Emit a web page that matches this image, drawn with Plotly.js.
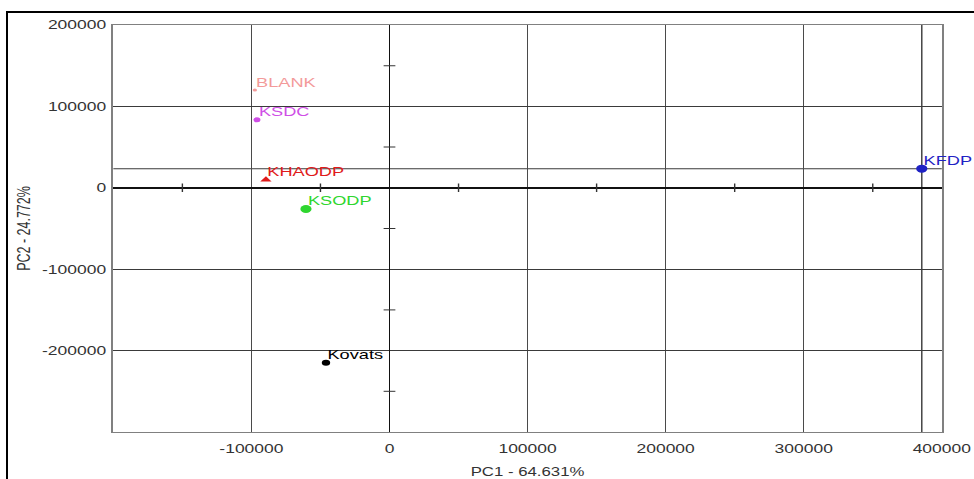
<!DOCTYPE html>
<html>
<head>
<meta charset="utf-8">
<script src="https://cdn.plot.ly/plotly-3.0.1.min.js"></script>
<style>
  html, body { margin: 0; padding: 0; background: #fff; }
  #wrap { position: relative; width: 974px; height: 479px; overflow: hidden; }
  /* the chart is laid out narrow and widened, giving the wide lettering */
  #chart { position: absolute; left: 0; top: 0; width: 696px; height: 479px;
           transform-origin: 0 0; transform: scaleX(1.3994); }
  #frame { position: absolute; left: 6px; top: 11px; width: 980px; height: 480px;
           border: 2px solid #000; pointer-events: none; }
</style>
</head>
<body>
<div id="wrap">
  <div id="chart"></div>
  <div id="frame"></div>
</div>
<script>
// PCA score plot: sample names and their PC1 / PC2 scores
const samples = ['BLANK', 'KSDC', 'KHAODP', 'KSODP', 'Kovats', 'KFDP'];
const pc1 = [-97500, -96000, -89500, -60500, -46000, 385500];
const pc2 = [120000, 83500, 10000, -26000, -215000, 23500];
const colors = ['#f39a9a', '#cf4fe6', '#e01b1b', '#2fd62f', '#000000', '#1f22c4'];
const symbols = ['circle', 'circle', 'triangle-up', 'circle', 'circle', 'circle'];
const sizes = [3, 5, 7, 8, 6, 8];

// axis ticks
const xTicks = [-100000, 0, 100000, 200000, 300000, 400000];
const yTicks = [-200000, -100000, 0, 100000, 200000];
const xMinor = [-150000, -50000, 50000, 150000, 250000, 350000];
const yMinor = [-250000, -150000, -50000, 50000, 150000];

const W = 696, H = 479, S = 974 / W;
const FONT = 'Liberation Sans, Arial, sans-serif';

const traces = [];

// small tick marks on the zero lines
traces.push({
  x: xMinor, y: xMinor.map(() => 0), mode: 'markers', type: 'scatter',
  marker: { symbol: 'line-ns-open', size: 6, color: '#333', line: { color: '#333', width: 1 } },
  hoverinfo: 'skip', showlegend: false
});
traces.push({
  x: yMinor.map(() => 0), y: yMinor, mode: 'markers', type: 'scatter',
  marker: { symbol: 'line-ew-open', size: 6, color: '#333', line: { color: '#333', width: 1 } },
  hoverinfo: 'skip', showlegend: false
});

samples.forEach((name, i) => {
  traces.push({
    x: [pc1[i]], y: [pc2[i]], type: 'scatter', mode: 'markers', name: name,
    marker: { color: colors[i], size: sizes[i], symbol: symbols[i] },
    showlegend: false, cliponaxis: false
  });
});

// sample names just above and to the right of each score
const annotations = samples.map((name, i) => ({
  x: pc1[i], y: pc2[i], xref: 'x', yref: 'y', text: name, showarrow: false,
  xanchor: 'left', yanchor: 'middle', xshift: -1, yshift: 8,
  font: { family: FONT, size: 13, color: colors[i] }
}));

// reference lines through the KFDP score
const iRef = samples.indexOf('KFDP');

const layout = {
  width: W, height: H,
  margin: { l: 113 / S, r: 32 / S, t: 25, b: 47 },
  paper_bgcolor: '#fff', plot_bgcolor: '#fff',
  font: { family: FONT, color: '#333' },
  annotations: annotations,
  xaxis: {
    range: [-200000, 400000], tickvals: xTicks, ticktext: xTicks.map(String),
    showgrid: true, gridcolor: '#4a4a4a', gridwidth: 1.1,
    zeroline: true, zerolinecolor: '#111', zerolinewidth: 1.3,
    showline: true, linecolor: '#808080', linewidth: 1.4, mirror: true,
    ticks: '', ticklabelstandoff: 5, tickfont: { size: 12.5, color: '#333' },
    title: { text: 'PC1 - 64.631%', font: { size: 12, color: '#333' }, standoff: 12 }
  },
  yaxis: {
    range: [-300000, 200000], tickvals: yTicks, ticktext: yTicks.map(String),
    showgrid: true, gridcolor: '#3a3a3a', gridwidth: 1,
    zeroline: true, zerolinecolor: '#111', zerolinewidth: 2,
    showline: true, linecolor: '#808080', linewidth: 1.6, mirror: true,
    ticks: '', ticklabelstandoff: 1, tickfont: { size: 12.5, color: '#333' },
    title: { text: 'PC2 - 24.772%', font: { size: 12.5, color: '#333' }, standoff: 5 }
  },
  shapes: [
    { type: 'line', xref: 'paper', yref: 'y', x0: 0, x1: 1, y0: pc2[iRef], y1: pc2[iRef],
      line: { color: '#3a3a3a', width: 1 }, layer: 'below' },
    { type: 'line', xref: 'x', yref: 'paper', x0: pc1[iRef], x1: pc1[iRef], y0: 0, y1: 1,
      line: { color: '#4a4a4a', width: 1.1 }, layer: 'below' }
  ]
};

Plotly.newPlot('chart', traces, layout, { staticPlot: true, displayModeBar: false });
</script>
</body>
</html>
